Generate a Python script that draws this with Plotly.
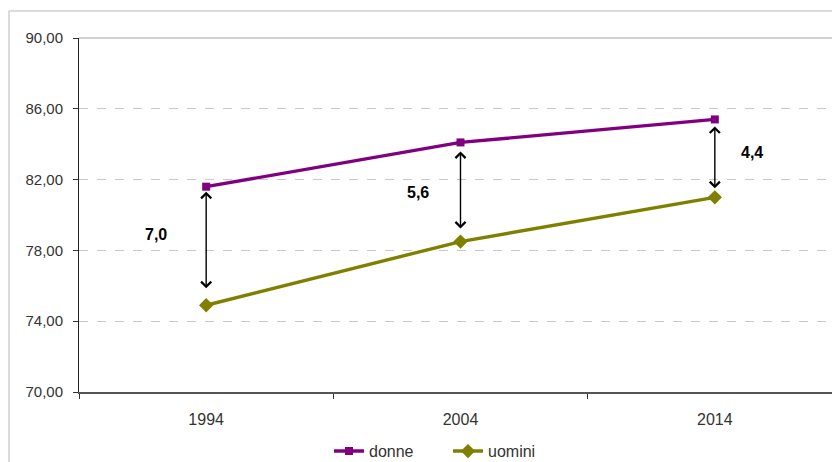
import plotly.graph_objects as go

years = ["1994", "2004", "2014"]
donne = [81.6, 84.1, 85.4]
uomini = [74.9, 78.5, 81.0]
gap_labels = ["7,0", "5,6", "4,4"]
y_ticks = [70, 74, 78, 82, 86, 90]

PURPLE = "#800080"
OLIVE = "#808000"
FONT = "Liberation Sans, Arial, sans-serif"

# layout geometry (page body has an 8px margin)
L, R, T, B = 71, 6, 30, 78
PW = 840 - L - R
PH = 462 - T - B

fig = go.Figure()
fig.add_trace(go.Scatter(
    x=years, y=donne, name="donne", mode="lines+markers",
    line=dict(color=PURPLE, width=3.4),
    marker=dict(symbol="square", size=8, color=PURPLE),
))
fig.add_trace(go.Scatter(
    x=years, y=uomini, name="uomini", mode="lines+markers",
    line=dict(color=OLIVE, width=3.4),
    marker=dict(symbol="diamond", size=11, color=OLIVE),
))

# double-headed arrows between the two series
stand = [(4, 17), (8, 13), (6, 9)]
label_pos = [(-50, 11), (-43, -1), (37, 6)]
for i, yr in enumerate(years):
    fig.add_annotation(
        x=i, y=uomini[i], xref="x", yref="y",
        ax=0, ay=donne[i], axref="pixel", ayref="y",
        text=" ", font=dict(size=1), borderpad=0,
        showarrow=True, arrowside="end+start",
        arrowhead=4, startarrowhead=4, arrowsize=1.4, startarrowsize=1.4,
        arrowwidth=1.4, arrowcolor="black",
        standoff=stand[i][1], startstandoff=stand[i][0],
    )
    fig.add_annotation(
        x=i, y=(donne[i] + uomini[i]) / 2, xref="x", yref="y",
        text="<b>" + gap_labels[i] + "</b>", showarrow=False,
        xshift=label_pos[i][0], yshift=label_pos[i][1],
        font=dict(family=FONT, size=16, color="black"),
    )

# chart frame (cropped) and plot-area top border
fx = (1 - L) / PW
fy = 1 + (T - 3) / PH
fig.add_shape(type="line", xref="paper", yref="paper",
              x0=fx, x1=1.02, y0=fy, y1=fy,
              line=dict(color="#cfcfcf", width=1.5))
fig.add_shape(type="line", xref="paper", yref="paper",
              x0=fx, x1=fx, y0=fy, y1=-0.3,
              line=dict(color="#cfcfcf", width=1.5))
fig.add_shape(type="line", xref="paper", yref="paper",
              x0=0, x1=1.02, y0=1, y1=1,
              line=dict(color="#a6a6a6", width=1.2))

fig.update_layout(
    width=840, height=462,
    margin=dict(l=L, r=R, t=T, b=B, autoexpand=False),
    paper_bgcolor="white", plot_bgcolor="white",
    separators=",.",
    font=dict(family=FONT, size=15, color="#333333"),
    showlegend=True,
    legend=dict(orientation="h", x=(329 - 79) / PW, xanchor="left",
                y=-0.119, yanchor="top",
                font=dict(family=FONT, size=16, color="#333333"),
                itemwidth=30, entrywidth=74, tracegroupgap=0, itemclick=False),
    xaxis=dict(
        type="category", range=[-0.5, 2.5],
        showline=True, linecolor="#555555", linewidth=1.5,
        ticks="outside", tickson="boundaries", ticklen=5, tickcolor="#333333",
        ticklabelstandoff=12,
        showgrid=False, zeroline=False,
        tickfont=dict(family=FONT, size=16, color="#333333"),
    ),
    yaxis=dict(
        range=[70, 90], tickvals=y_ticks, tickformat=".2f",
        showline=True, linecolor="#222222", linewidth=1,
        ticks="outside", ticklen=5, tickcolor="#333333",
        ticklabelstandoff=7,
        showgrid=True, gridcolor="#c8c8c8", griddash="dash", gridwidth=1,
        zeroline=False,
        tickfont=dict(family=FONT, size=15, color="#333333"),
    ),
)

fig.write_html("out.html")
